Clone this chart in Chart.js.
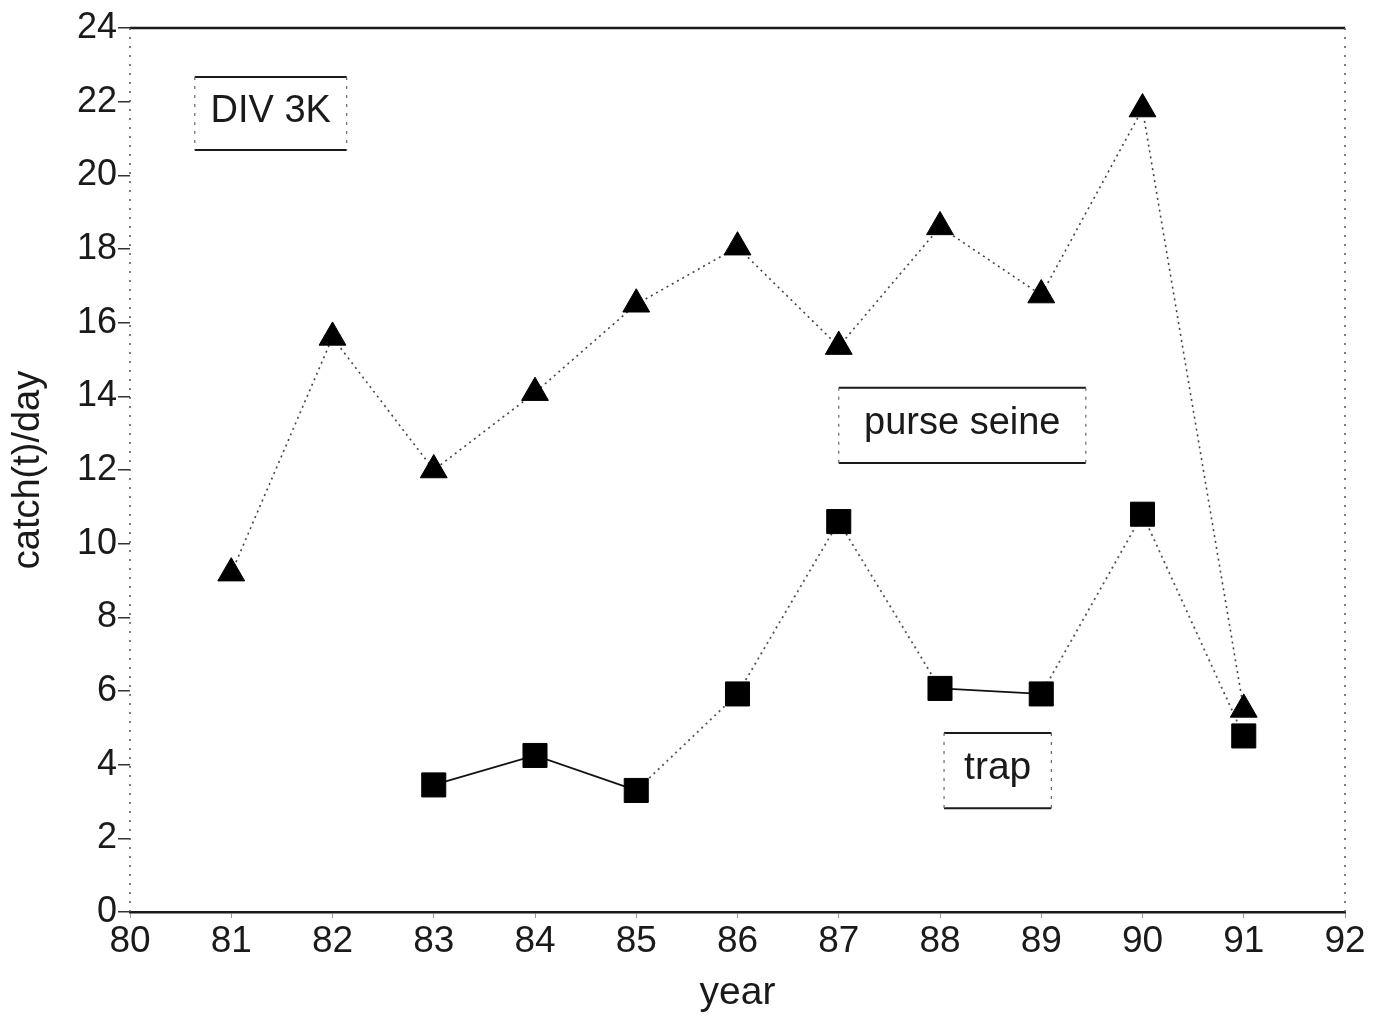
<!DOCTYPE html>
<html>
<head>
<meta charset="utf-8">
<script src="https://cdn.jsdelivr.net/npm/chart.js@4.4.1/dist/chart.umd.min.js"></script>
<style>
  body { margin: 0; background: #fff; }
  #wrap { width: 1384px; height: 1017px; }
</style>
</head>
<body>
<div id="wrap"><canvas id="myChart"></canvas></div>
<script>
// Data
var years = [81, 82, 83, 84, 85, 86, 87, 88, 89, 90, 91];
var purseSeine = [9.2, 15.6, 12.0, 14.1, 16.5, 18.05, 15.35, 18.6, 16.75, 21.8, 5.5];
var trapYears = [83, 84, 85, 86, 87, 88, 89, 90, 91];
var trap = [3.45, 4.25, 3.3, 5.92, 10.6, 6.07, 5.92, 10.8, 4.78];
// which trap segments are drawn solid (rest dotted)
var trapSolid = [true, true, false, false, false, true, false, false];

var fontFam = "'Liberation Sans', Arial, Helvetica, sans-serif";
var ink = '#1a1a1a';

function toPoints(xs, ys) {
  var pts = [];
  for (var i = 0; i < xs.length; i++) {
    pts.push({ x: xs[i], y: ys[i] });
  }
  return pts;
}

//Plugin for frame lines and text boxes
var framePlugin = {
  id: 'frame',
  afterDraw: function (chart) {
    var ctx = chart.ctx;
    var a = chart.chartArea;
    var xs = chart.scales.x;
    var ys = chart.scales.y;
    ctx.save();
    // top line (solid)
    ctx.strokeStyle = ink;
    ctx.lineWidth = 2.5;
    ctx.beginPath();
    ctx.moveTo(a.left, a.top);
    ctx.lineTo(a.right, a.top);
    ctx.stroke();
    // left and right lines (dotted)
    ctx.lineWidth = 1.5;
    ctx.strokeStyle = '#555';
    ctx.setLineDash([2, 7]);
    ctx.beginPath();
    ctx.moveTo(a.left, a.top);
    ctx.lineTo(a.left, a.bottom);
    ctx.moveTo(a.right, a.top);
    ctx.lineTo(a.right, a.bottom);
    ctx.stroke();
    ctx.setLineDash([]);

    // boxes
    var boxes = [
      { text: 'DIV 3K', x0: 80.64, x1: 82.14, y0: 22.67, y1: 20.69, size: 38 },
      { text: 'purse seine', x0: 87.0, x1: 89.44, y0: 14.23, y1: 12.19, size: 38 },
      { text: 'trap', x0: 88.04, x1: 89.1, y0: 4.86, y1: 2.82, size: 39 }
    ];
    boxes.forEach(function (b) {
      var l = xs.getPixelForValue(b.x0), r = xs.getPixelForValue(b.x1);
      var t = ys.getPixelForValue(b.y0), btm = ys.getPixelForValue(b.y1);
      ctx.strokeStyle = ink;
      ctx.lineWidth = 2;
      ctx.beginPath();
      ctx.moveTo(l, t); ctx.lineTo(r, t);
      ctx.moveTo(l, btm); ctx.lineTo(r, btm);
      ctx.stroke();
      ctx.lineWidth = 1.2;
      ctx.strokeStyle = '#666';
      ctx.setLineDash([3, 6]);
      ctx.beginPath();
      ctx.moveTo(l, t); ctx.lineTo(l, btm);
      ctx.moveTo(r, t); ctx.lineTo(r, btm);
      ctx.stroke();
      ctx.setLineDash([]);
      ctx.fillStyle = ink;
      ctx.font = b.size + 'px ' + fontFam;
      ctx.textAlign = 'center';
      ctx.textBaseline = 'middle';
      ctx.fillText(b.text, (l + r) / 2, (t + btm) / 2 - 2);
    });
    ctx.restore();
  }
};

var ctx = document.getElementById('myChart').getContext('2d');
var myChart = new Chart(ctx, {
  type: 'line',
  data: {
    datasets: [{
      label: 'purse seine',
      data: toPoints(years, purseSeine),
      borderColor: '#444',
      borderWidth: 1.6,
      borderDash: [2, 4],
      pointStyle: 'triangle',
      pointRadius: 15.5,
      pointBackgroundColor: '#000',
      pointBorderColor: '#000',
      pointBorderWidth: 1,
      tension: 0
    }, {
      label: 'trap',
      data: toPoints(trapYears, trap),
      borderColor: '#333',
      borderWidth: 1.8,
      segment: {
        borderDash: function (c) {
          return trapSolid[c.p0DataIndex] ? [] : [2, 4];
        },
        borderColor: function (c) {
          return trapSolid[c.p0DataIndex] ? '#111' : '#555';
        }
      },
      pointStyle: 'rect',
      pointRadius: 17,
      pointBackgroundColor: '#000',
      pointBorderColor: '#000',
      pointBorderWidth: 1,
      tension: 0
    }]
  },
  options: {
    responsive: true,
    maintainAspectRatio: false,
    animation: false,
    layout: { padding: { top: 28, right: 39, left: 0, bottom: 0 } },
    plugins: {
      legend: { display: false },
      tooltip: { enabled: false }
    },
    scales: {
      x: {
        type: 'linear',
        min: 80,
        max: 92,
        ticks: {
          stepSize: 1,
          color: ink,
          padding: 2,
          font: { family: fontFam, size: 37 }
        },
        grid: { drawOnChartArea: false, tickLength: 6, color: '#999' },
        border: { color: ink, width: 2.5 },
        title: {
          display: true,
          text: 'year',
          color: ink,
          padding: { top: 0, bottom: 0 },
          font: { family: fontFam, size: 39 }
        },
        afterFit: function (scale) { scale.height = 105; }
      },
      y: {
        min: 0,
        max: 24,
        ticks: {
          stepSize: 2,
          color: ink,
          padding: 1,
          font: { family: fontFam, size: 36 }
        },
        grid: { drawOnChartArea: false, tickLength: 12, color: '#333', lineWidth: 1.5 },
        border: { display: false },
        title: {
          display: true,
          text: 'catch(t)/day',
          color: ink,
          padding: { top: 6, bottom: 0 },
          font: { family: fontFam, size: 38 }
        },
        afterFit: function (scale) { scale.width = 130; }
      }
    }
  },
  plugins: [framePlugin]
});
</script>
</body>
</html>
